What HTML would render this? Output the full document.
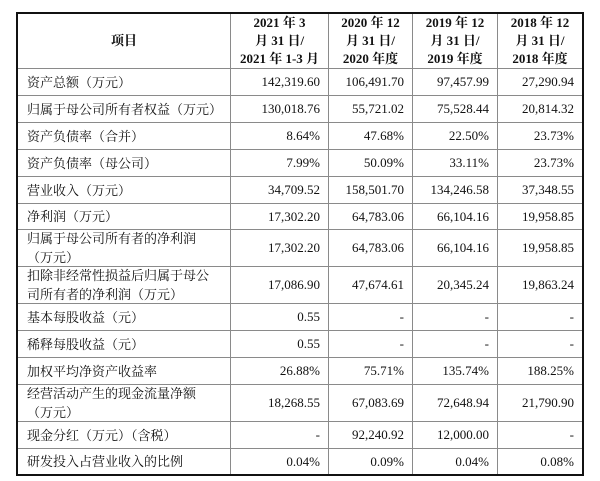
<!DOCTYPE html>
<html><head><meta charset="utf-8"><style>
html,body{margin:0;padding:0;background:#fff;}
body{width:600px;height:481px;position:relative;overflow:hidden;font-family:"Liberation Serif","Noto Serif CJK SC",serif;color:#111;font-size:13px;}
.h{position:absolute;left:17px;width:567px;height:1px;background:#8a8a8a;}
.v{position:absolute;top:13px;height:462px;width:1px;background:#8a8a8a;}
.box{position:absolute;left:16px;top:12px;width:564px;height:460px;border:2px solid #111;}
.c{position:absolute;display:flex;align-items:center;box-sizing:border-box;white-space:nowrap;}
.l{padding-left:9px;line-height:19px;white-space:normal;}
.n{justify-content:flex-end;padding-right:8px;}
.hd{justify-content:center;text-align:center;font-weight:bold;line-height:18px;}
</style></head><body>
<div class="h" style="top:68px"></div>
<div class="h" style="top:95px"></div>
<div class="h" style="top:122px"></div>
<div class="h" style="top:149px"></div>
<div class="h" style="top:176px"></div>
<div class="h" style="top:203px"></div>
<div class="h" style="top:229px"></div>
<div class="h" style="top:266px"></div>
<div class="h" style="top:303px"></div>
<div class="h" style="top:330px"></div>
<div class="h" style="top:357px"></div>
<div class="h" style="top:384px"></div>
<div class="h" style="top:421px"></div>
<div class="h" style="top:448px"></div>
<div class="v" style="left:230px"></div>
<div class="v" style="left:328px"></div>
<div class="v" style="left:412px"></div>
<div class="v" style="left:497px"></div>
<div class="box"></div>

<!-- header -->
<div class="c hd" style="left:18px;top:14px;width:212px;height:54px;">项目</div>
<div class="c hd" style="left:231px;top:14px;width:97px;height:54px;">2021 年 3<br>月 31 日/<br>2021 年 1-3 月</div>
<div class="c hd" style="left:329px;top:14px;width:83px;height:54px;">2020 年 12<br>月 31 日/<br>2020 年度</div>
<div class="c hd" style="left:413px;top:14px;width:84px;height:54px;">2019 年 12<br>月 31 日/<br>2019 年度</div>
<div class="c hd" style="left:498px;top:14px;width:84px;height:54px;">2018 年 12<br>月 31 日/<br>2018 年度</div>

<!-- rows -->
<div class="c l" style="left:18px;top:69px;width:212px;height:26px;">资产总额（万元）</div>
<div class="c n" style="left:231px;top:69px;width:97px;height:26px;">142,319.60</div>
<div class="c n" style="left:329px;top:69px;width:83px;height:26px;">106,491.70</div>
<div class="c n" style="left:413px;top:69px;width:84px;height:26px;">97,457.99</div>
<div class="c n" style="left:498px;top:69px;width:84px;height:26px;">27,290.94</div>

<div class="c l" style="left:18px;top:96px;width:212px;height:26px;">归属于母公司所有者权益（万元）</div>
<div class="c n" style="left:231px;top:96px;width:97px;height:26px;">130,018.76</div>
<div class="c n" style="left:329px;top:96px;width:83px;height:26px;">55,721.02</div>
<div class="c n" style="left:413px;top:96px;width:84px;height:26px;">75,528.44</div>
<div class="c n" style="left:498px;top:96px;width:84px;height:26px;">20,814.32</div>

<div class="c l" style="left:18px;top:123px;width:212px;height:26px;">资产负债率（合并）</div>
<div class="c n" style="left:231px;top:123px;width:97px;height:26px;">8.64%</div>
<div class="c n" style="left:329px;top:123px;width:83px;height:26px;">47.68%</div>
<div class="c n" style="left:413px;top:123px;width:84px;height:26px;">22.50%</div>
<div class="c n" style="left:498px;top:123px;width:84px;height:26px;">23.73%</div>

<div class="c l" style="left:18px;top:150px;width:212px;height:26px;">资产负债率（母公司）</div>
<div class="c n" style="left:231px;top:150px;width:97px;height:26px;">7.99%</div>
<div class="c n" style="left:329px;top:150px;width:83px;height:26px;">50.09%</div>
<div class="c n" style="left:413px;top:150px;width:84px;height:26px;">33.11%</div>
<div class="c n" style="left:498px;top:150px;width:84px;height:26px;">23.73%</div>

<div class="c l" style="left:18px;top:177px;width:212px;height:26px;">营业收入（万元）</div>
<div class="c n" style="left:231px;top:177px;width:97px;height:26px;">34,709.52</div>
<div class="c n" style="left:329px;top:177px;width:83px;height:26px;">158,501.70</div>
<div class="c n" style="left:413px;top:177px;width:84px;height:26px;">134,246.58</div>
<div class="c n" style="left:498px;top:177px;width:84px;height:26px;">37,348.55</div>

<div class="c l" style="left:18px;top:204px;width:212px;height:25px;">净利润（万元）</div>
<div class="c n" style="left:231px;top:204px;width:97px;height:25px;">17,302.20</div>
<div class="c n" style="left:329px;top:204px;width:83px;height:25px;">64,783.06</div>
<div class="c n" style="left:413px;top:204px;width:84px;height:25px;">66,104.16</div>
<div class="c n" style="left:498px;top:204px;width:84px;height:25px;">19,958.85</div>

<div class="c l" style="left:18px;top:230px;width:212px;height:36px;">归属于母公司所有者的净利润<br>（万元）</div>
<div class="c n" style="left:231px;top:230px;width:97px;height:36px;">17,302.20</div>
<div class="c n" style="left:329px;top:230px;width:83px;height:36px;">64,783.06</div>
<div class="c n" style="left:413px;top:230px;width:84px;height:36px;">66,104.16</div>
<div class="c n" style="left:498px;top:230px;width:84px;height:36px;">19,958.85</div>

<div class="c l" style="left:18px;top:267px;width:212px;height:36px;">扣除非经常性损益后归属于母公<br>司所有者的净利润（万元）</div>
<div class="c n" style="left:231px;top:267px;width:97px;height:36px;">17,086.90</div>
<div class="c n" style="left:329px;top:267px;width:83px;height:36px;">47,674.61</div>
<div class="c n" style="left:413px;top:267px;width:84px;height:36px;">20,345.24</div>
<div class="c n" style="left:498px;top:267px;width:84px;height:36px;">19,863.24</div>

<div class="c l" style="left:18px;top:304px;width:212px;height:26px;">基本每股收益（元）</div>
<div class="c n" style="left:231px;top:304px;width:97px;height:26px;">0.55</div>
<div class="c n" style="left:329px;top:304px;width:83px;height:26px;">-</div>
<div class="c n" style="left:413px;top:304px;width:84px;height:26px;">-</div>
<div class="c n" style="left:498px;top:304px;width:84px;height:26px;">-</div>

<div class="c l" style="left:18px;top:331px;width:212px;height:26px;">稀释每股收益（元）</div>
<div class="c n" style="left:231px;top:331px;width:97px;height:26px;">0.55</div>
<div class="c n" style="left:329px;top:331px;width:83px;height:26px;">-</div>
<div class="c n" style="left:413px;top:331px;width:84px;height:26px;">-</div>
<div class="c n" style="left:498px;top:331px;width:84px;height:26px;">-</div>

<div class="c l" style="left:18px;top:358px;width:212px;height:26px;">加权平均净资产收益率</div>
<div class="c n" style="left:231px;top:358px;width:97px;height:26px;">26.88%</div>
<div class="c n" style="left:329px;top:358px;width:83px;height:26px;">75.71%</div>
<div class="c n" style="left:413px;top:358px;width:84px;height:26px;">135.74%</div>
<div class="c n" style="left:498px;top:358px;width:84px;height:26px;">188.25%</div>

<div class="c l" style="left:18px;top:385px;width:212px;height:36px;">经营活动产生的现金流量净额<br>（万元）</div>
<div class="c n" style="left:231px;top:385px;width:97px;height:36px;">18,268.55</div>
<div class="c n" style="left:329px;top:385px;width:83px;height:36px;">67,083.69</div>
<div class="c n" style="left:413px;top:385px;width:84px;height:36px;">72,648.94</div>
<div class="c n" style="left:498px;top:385px;width:84px;height:36px;">21,790.90</div>

<div class="c l" style="left:18px;top:422px;width:212px;height:26px;">现金分红（万元）（含税）</div>
<div class="c n" style="left:231px;top:422px;width:97px;height:26px;">-</div>
<div class="c n" style="left:329px;top:422px;width:83px;height:26px;">92,240.92</div>
<div class="c n" style="left:413px;top:422px;width:84px;height:26px;">12,000.00</div>
<div class="c n" style="left:498px;top:422px;width:84px;height:26px;">-</div>

<div class="c l" style="left:18px;top:449px;width:212px;height:25px;">研发投入占营业收入的比例</div>
<div class="c n" style="left:231px;top:449px;width:97px;height:25px;">0.04%</div>
<div class="c n" style="left:329px;top:449px;width:83px;height:25px;">0.09%</div>
<div class="c n" style="left:413px;top:449px;width:84px;height:25px;">0.04%</div>
<div class="c n" style="left:498px;top:449px;width:84px;height:25px;">0.08%</div>
</body></html>
